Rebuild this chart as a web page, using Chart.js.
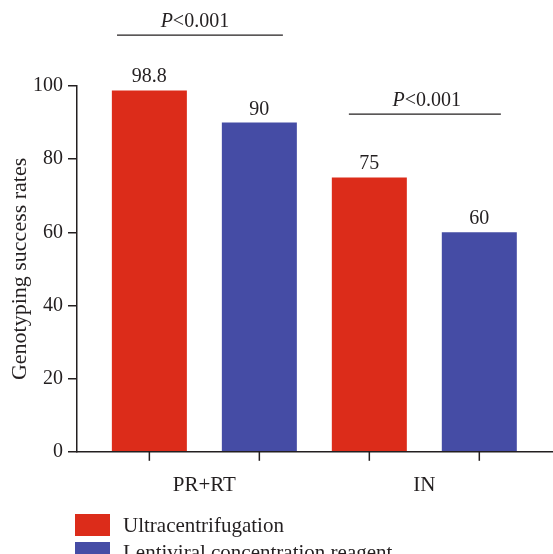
<!DOCTYPE html>
<html>
<head>
<meta charset="utf-8">
<script src="https://cdn.jsdelivr.net/npm/chart.js@4"></script>
<style>
  html, body { margin: 0; padding: 0; background: #fff; }
  #wrap { position: relative; width: 553px; height: 554px; overflow: hidden; }
  #c { position: absolute; left: 0; top: 0; }
  #legend { position: absolute; left: 75px; top: 514px; font-family: "Liberation Serif", serif; font-size: 21px; color: #231f20; }
  .item { display: flex; align-items: center; height: 22px; margin-bottom: 5.5px; white-space: nowrap; }
  .sw { width: 35px; height: 22px; margin-right: 13px; flex: none; }
</style>
</head>
<body>
<div id="wrap">
  <canvas id="c" width="553" height="554"></canvas>
  <div id="legend"></div>
</div>
<script>
// ---- data ----
const categories = ['PR+RT', 'IN'];
const seriesNames = ['Ultracentrifugation', 'Lentiviral concentration reagent'];
const ultracentrifugation = [98.8, 75];
const lentiviralReagent = [90, 60];
const yTicks = [0, 20, 40, 60, 80, 100];
const pValueLabels = ['P<0.001', 'P<0.001'];

// ---- style / layout ----
const seriesColors = ['#DC2C1A', '#454CA5'];
const ink = '#231f20';
const FONT = '"Liberation Serif", "Times New Roman", serif';
const bracketLayout = [
  { from: -0.397, to: 0.357, level: 113.9, textAt: -0.043 },
  { from: -0.343, to: 0.348, level: 92.3, textAt: 0.011 }
];

const seriesValues = [ultracentrifugation, lentiviralReagent];

// legend (HTML, built from series arrays)
const legendEl = document.getElementById('legend');
seriesNames.forEach((name, i) => {
  const item = document.createElement('div');
  item.className = 'item';
  const sw = document.createElement('span');
  sw.className = 'sw';
  sw.style.background = seriesColors[i];
  const txt = document.createElement('span');
  txt.textContent = name;
  item.appendChild(sw);
  item.appendChild(txt);
  legendEl.appendChild(item);
});

const overlay = {
  id: 'overlay',
  afterDatasetsDraw(chart) {
    const { ctx, chartArea, scales } = chart;
    const xs = scales.x, ys = scales.y;
    ctx.save();
    ctx.strokeStyle = ink;
    ctx.fillStyle = ink;
    ctx.lineWidth = 1.5;
    chart.data.datasets.forEach((ds, di) => {
      const meta = chart.getDatasetMeta(di);
      meta.data.forEach((bar, i) => {
        ctx.beginPath();
        ctx.moveTo(bar.x, chartArea.bottom);
        ctx.lineTo(bar.x, chartArea.bottom + 9);
        ctx.stroke();
        ctx.font = '20px ' + FONT;
        ctx.textAlign = 'center';
        ctx.textBaseline = 'alphabetic';
        ctx.fillText(String(ds.data[i].y), bar.x, bar.y - 8);
      });
    });
    bracketLayout.forEach((b, gi) => {
      const x0 = xs.getPixelForValue(gi + b.from);
      const x1 = xs.getPixelForValue(gi + b.to);
      const yy = ys.getPixelForValue(b.level);
      ctx.lineWidth = 1.4;
      ctx.beginPath();
      ctx.moveTo(x0, yy);
      ctx.lineTo(x1, yy);
      ctx.stroke();
      const label = pValueLabels[gi];
      const first = label.charAt(0), rest = label.slice(1);
      ctx.textAlign = 'left';
      ctx.textBaseline = 'alphabetic';
      ctx.font = 'italic 20px ' + FONT;
      const w1 = ctx.measureText(first).width;
      ctx.font = '20px ' + FONT;
      const w2 = ctx.measureText(rest).width;
      const cx = xs.getPixelForValue(gi + b.textAt);
      const sx = cx - (w1 + w2) / 2;
      ctx.font = 'italic 20px ' + FONT;
      ctx.fillText(first, sx, yy - 8);
      ctx.font = '20px ' + FONT;
      ctx.fillText(rest, sx + w1, yy - 8);
    });
    ctx.restore();
  }
};

new Chart(document.getElementById('c'), {
  type: 'bar',
  data: {
    datasets: seriesNames.map((name, si) => ({
      label: name,
      data: seriesValues[si].map((v, i) => ({ x: i, y: v })),
      backgroundColor: seriesColors[si],
      borderWidth: 0,
      barPercentage: 0.682,
      categoryPercentage: 1
    }))
  },
  options: {
    responsive: false,
    animation: false,
    layout: { padding: { top: 86, bottom: 35, left: 0, right: 0 } },
    plugins: { legend: { display: false }, tooltip: { enabled: false } },
    scales: {
      x: {
        type: 'linear',
        min: -0.579,
        max: 1.585,
        offset: false,
        afterBuildTicks: s => { s.ticks = categories.map((_, i) => ({ value: i })); },
        ticks: {
          callback: v => categories[v] ?? '',
          padding: 21,
          autoSkip: false,
          maxRotation: 0,
          font: { family: FONT, size: 21 },
          color: ink
        },
        grid: { display: false, drawTicks: false },
        border: { display: true, color: ink, width: 1.5 }
      },
      y: {
        min: 0,
        max: 100,
        afterBuildTicks: s => { s.ticks = yTicks.map(v => ({ value: v })); },
        ticks: { padding: 5, font: { family: FONT, size: 20 }, color: ink },
        grid: { display: true, drawOnChartArea: false, drawTicks: true, tickLength: 9, color: ink, lineWidth: 1.5 },
        border: { display: true, color: ink, width: 1.5 },
        title: {
          display: true,
          text: 'Genotyping success rates',
          font: { family: FONT, size: 22, lineHeight: 0.5454 },
          color: ink,
          padding: { top: 14, bottom: 2 }
        }
      }
    }
  },
  plugins: [overlay]
});
</script>
</body>
</html>
